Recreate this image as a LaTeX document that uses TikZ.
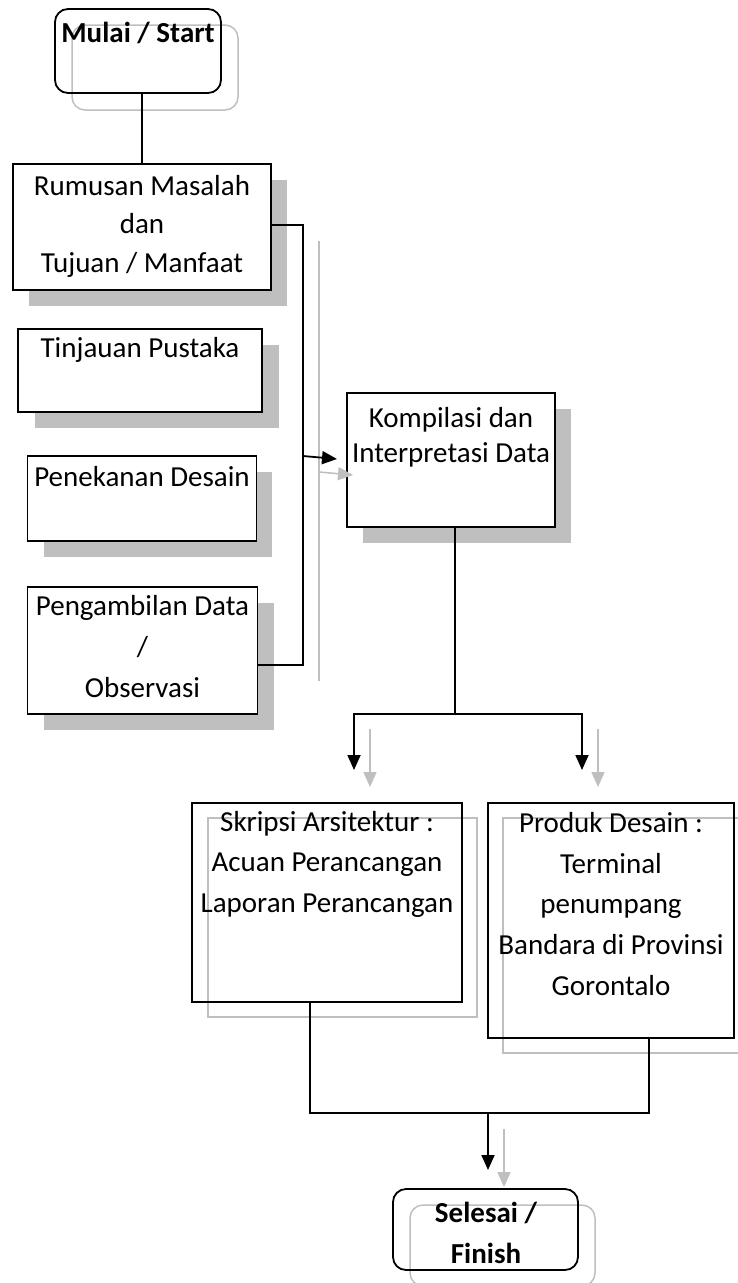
\documentclass[tikz,border=0pt]{standalone}
\usepackage{fontspec}
\setmainfont{Carlito}
\usetikzlibrary{arrows.meta}
\definecolor{shadowgray}{RGB}{191,191,191}
\tikzset{
  bx/.style={draw=black, line width=1.8pt, fill=white, inner sep=0pt, rectangle},
  obx/.style={draw=black, line width=1.8pt, inner sep=0pt, rectangle},
  rbx/.style={obx, rounded corners=13pt},
  gshape/.style={draw=shadowgray, line width=1.5pt},
  shd/.style={fill=shadowgray},
  ln/.style={draw=black, line width=1.8pt},
  arr/.style={ln, -{Triangle[length=15pt,width=13pt]}},
  garr/.style={draw=shadowgray, line width=1.5pt, -{Triangle[length=15pt,width=13pt]}},
  txt/.style={anchor=north, inner sep=0pt, align=center, font=\fontsize{29}{41}\selectfont},
}
\begin{document}
\begin{tikzpicture}[x=1pt, y=-1pt]
\useasboundingbox (0,0) rectangle (738,1283);

% ---------- grey shadows / outlines ----------
\draw[gshape, rounded corners=13pt] (72,25) rectangle (238,110);
\fill[shd] (29,180) rectangle (287,306);
\fill[shd] (35,345) rectangle (279,428);
\fill[shd] (44,472) rectangle (272,557);
\fill[shd] (44,603) rectangle (274,730);
\fill[shd] (363,409) rectangle (571,543);
\draw[gshape] (208,818) rectangle (477,1017);
\draw[gshape] (503,818) rectangle (752,1053);
\draw[gshape, rounded corners=13pt] (410,1205) rectangle (595,1286);

% ---------- boxes ----------
\node[rbx, minimum width=166pt, minimum height=84pt] (start) at (138,51) {};
\node[bx, minimum width=258pt, minimum height=126pt] (rum) at (142,227) {};
\node[bx, minimum width=244pt, minimum height=83pt] (tin) at (140,370.5) {};
\node[bx, minimum width=229pt, minimum height=85pt] (pen) at (142,498.5) {};
\node[bx, minimum width=230pt, minimum height=127pt] (peng) at (142.5,650.5) {};
\node[bx, minimum width=208pt, minimum height=134pt] (komp) at (451,460) {};
\node[obx, minimum width=270pt, minimum height=199pt] (skr) at (327,902.5) {};
\node[obx, minimum width=246pt, minimum height=235pt] (prod) at (611,920.5) {};
\node[rbx, minimum width=185pt, minimum height=81pt] (fin) at (485.5,1229.5) {};

% ---------- helper coordinates ----------
\coordinate (bustop) at (303,225);
\coordinate (busarr) at (303,456);
\coordinate (busbot) at (303,665);
\coordinate (kompin) at (337,459);
\coordinate (split) at (455,714);
\coordinate (bl) at (354,714);
\coordinate (br) at (582,714);
\coordinate (tl) at (354,770);
\coordinate (tr) at (582,770);
\coordinate (jl) at (310,1113);
\coordinate (jr) at (649,1113);
\coordinate (join) at (488,1113);
\coordinate (ft) at (488,1170);

% ---------- grey connector shadows ----------
\draw[gshape] ([shift={(16,16)}]bustop) -- ([shift={(16,16)}]busbot);
\draw[garr] ([shift={(16,16)}]busarr) -- ([shift={(16,16)}]kompin);
\draw[garr] ([shift={(16,15)}]bl) -- ([shift={(16,17)}]tl);
\draw[garr] ([shift={(16,15)}]br) -- ([shift={(16,17)}]tr);
\draw[garr] ([shift={(16,16)}]join) -- ([shift={(16,17)}]ft);

% ---------- connectors ----------
\draw[ln] (rum.north) -- (rum.north |- start.south);
\draw[ln] (rum.east |- bustop) -- (bustop) -- (busbot) -- (busbot -| peng.east);
\draw[arr] (busarr) -- (kompin);
\draw[ln] (komp.south -| split) -- (split);
\draw[arr] (split) -- (bl) -- (tl);
\draw[arr] (split) -- (br) -- (tr);
\draw[ln] (skr.south -| jl) -- (jl) -- (jr) -- (prod.south -| jr);
\draw[arr] (join) -- (ft);

% ---------- texts ----------
\node[txt] (tstart) at (138,18) {\rule{0pt}{24pt}\bfseries Mulai / Start};
\node[txt, font=\fontsize{29}{38.5}\selectfont] (trum) at (142,171) {\rule{0pt}{24pt}Rumusan Masalah\\dan\\Tujuan / Manfaat};
\node[txt] (ttin) at (140,333) {\rule{0pt}{24pt}Tinjauan Pustaka};
\node[txt] (tpen) at (142,462) {\rule{0pt}{24pt}Penekanan Desain};
\node[txt] (tpeng) at (142.5,591) {\rule{0pt}{24pt}Pengambilan Data\\/\\Observasi};
\node[txt, font=\fontsize{29}{35}\selectfont] (tkomp) at (451,403) {\rule{0pt}{24pt}Kompilasi dan\\Interpretasi Data};
\node[txt, font=\fontsize{29}{40.5}\selectfont] (tskr) at (327,807) {\rule{0pt}{24pt}Skripsi Arsitektur :\\Acuan Perancangan\\Laporan Perancangan};
\node[txt, font=\fontsize{29}{40.8}\selectfont] (tprod) at (611,808) {\rule{0pt}{24pt}Produk Desain :\\Terminal\\penumpang\\Bandara di Provinsi\\Gorontalo};
\node[txt, font=\bfseries\fontsize{29}{41}\selectfont] (tfin) at (486,1198) {\rule{0pt}{24pt}Selesai /\\Finish};
\end{tikzpicture}
\end{document}
